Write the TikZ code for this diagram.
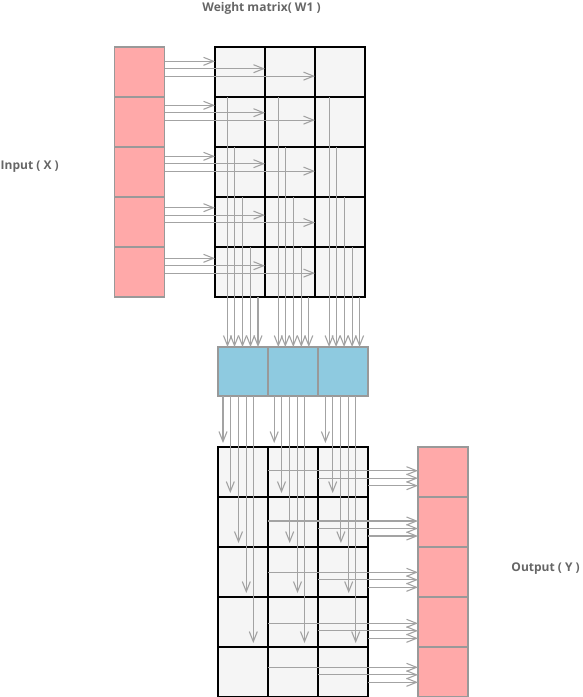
\documentclass[tikz,border=0pt]{standalone}
\usepackage{fontspec}
\newfontfamily\labelfont{Open Sans}
\usetikzlibrary{arrows.meta, positioning}

\definecolor{cellPink}{HTML}{FFA9A9}
\definecolor{cellBlue}{HTML}{8ECAE0}
\definecolor{cellGray}{HTML}{F5F5F5}
\definecolor{lineGray}{HTML}{999999}
\definecolor{arrowGray}{HTML}{A3A3A3}
\definecolor{textGray}{HTML}{666666}

\begin{document}
\begin{tikzpicture}[
        x=1pt, y=-1pt,
        inCell/.style={rectangle, draw=lineGray, fill=cellPink, line width=1.1pt, minimum width=50pt, minimum height=50pt, inner sep=0pt, outer sep=0pt},
        wCell/.style={rectangle, draw=black, fill=cellGray, line width=1.2pt, minimum width=50pt, minimum height=50pt, inner sep=0pt, outer sep=0pt},
        sumCell/.style={rectangle, draw=lineGray, fill=cellBlue, line width=1.1pt, minimum width=50pt, minimum height=49pt, inner sep=0pt, outer sep=0pt},
        labelNode/.style={font=\labelfont\bfseries\fontsize{12}{14}\selectfont, text=textGray, inner sep=0pt},
        arrow/.style={-{Straight Barb[length=10pt, width=8pt]}, draw=arrowGray, line width=1.1pt}
    ]
        \useasboundingbox (0,0) rectangle (582,697);

        % input column and weight matrix
        \node[inCell] (in0) at (139.5,72) {};
        \foreach \i [remember=\i as \p (initially 0)] in {1,...,4}
            \node[inCell, below=0pt of in\p] (in\i) {};
        \foreach \i in {0,...,4}
            \foreach \j in {0,1,2}
                \node[wCell] (w\i\j) at ({240+50*\j},{72+50*\i}) {};

        % summed row
        \node[sumCell] (b0) at (243,371.5) {};
        \node[sumCell, right=0pt of b0] (b1) {};
        \node[sumCell, right=0pt of b1] (b2) {};

        % second matrix and output column
        \foreach \i in {0,...,4}
            \foreach \j in {0,1,2}
                \node[wCell] (v\i\j) at ({243+50*\j},{472+50*\i}) {};
        \node[inCell] (out0) at (443,472) {};
        \foreach \i [remember=\i as \p (initially 0)] in {1,...,4}
            \node[inCell, below=0pt of out\p] (out\i) {};

        \node[labelNode] (wLabel) at (261.5,8) {Weight matrix( W1 )};
        \node[labelNode, anchor=west] (xLabel) at (0.5,167) {Input ( X )};
        \node[labelNode, anchor=east] (yLabel) at (580,569) {Output ( Y )};

        % X into W1
        \foreach \i/\base in {0/14.3, 1/8.3, 2/9.3, 3/10.7, 4/11.3}
            \foreach \j in {0,1,2}
                \draw[arrow] ([yshift={-(\base+7.4*\j)*1pt}]in\i.north east) -- ([yshift={-(\base+7.4*\j)*1pt}]in\i.north east -| w\i\j.west);
        % W1 down to the sums
        \foreach \i/\d in {0/12.5, 1/19.5, 2/27.5, 3/35.5, 4/43}
            \foreach \j in {0,1,2}
                \draw[arrow] ([xshift={(\d+0.8*\j)*1pt}]w\i\j.south west) -- ([xshift={(\d+0.8*\j)*1pt}]w\i\j.south west |- b\j.north);
        % sums down into the second matrix
        \foreach \k/\d in {0/5, 1/12.3, 2/20.5, 3/28.3, 4/35.3}
            \foreach \j in {0,1,2}
                \draw[arrow] ([xshift={(\d+1.2*\j)*1pt}]b\j.south west) -- ([xshift={(\d+1.2*\j)*1pt}, yshift=4pt]v\k\j.north west);
        % second matrix out to Y
        \foreach \i/\base in {0/23.7, 1/24, 2/25.3, 3/26.3, 4/20.3}
            \foreach \j in {0,1,2}
                \draw[arrow] ([yshift={-(\base+7.5*\j)*1pt}]v\i\j.north east) -- ([yshift={-(\base+7.5*\j)*1pt}]v\i\j.north east -| out\i.west);
    \end{tikzpicture}
\end{document}
